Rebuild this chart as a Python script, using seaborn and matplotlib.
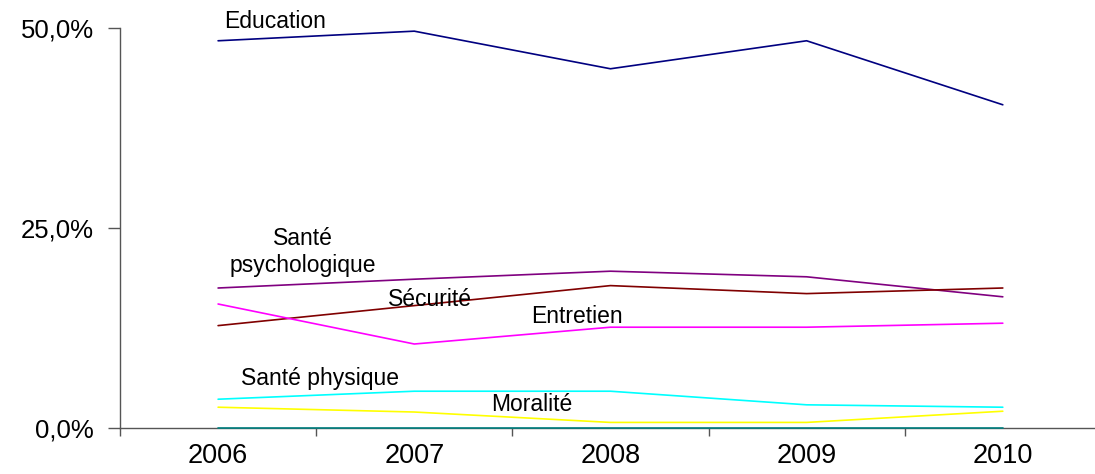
import numpy as np
import pandas as pd
import matplotlib
matplotlib.use("Agg")
import matplotlib.pyplot as plt
from matplotlib.ticker import FixedLocator, FuncFormatter
import seaborn as sns

# Données (% par thème et par année)
annees = ["2006", "2007", "2008", "2009", "2010"]
education = [48.4, 49.6, 44.9, 48.4, 40.4]
sante_psy = [17.5, 18.6, 19.6, 18.9, 16.4]
securite = [12.8, 15.3, 17.8, 16.8, 17.5]
entretien = [15.5, 10.5, 12.6, 12.6, 13.1]
sante_phys = [3.6, 4.6, 4.6, 2.9, 2.6]
moralite = [2.6, 2.0, 0.7, 0.7, 2.1]
autre = [0.0, 0.0, 0.0, 0.0, 0.0]

series = {
    "Education": education,
    "Santé psychologique": sante_psy,
    "Sécurité": securite,
    "Entretien": entretien,
    "Santé physique": sante_phys,
    "Moralité": moralite,
    "Autre": autre,
}
couleurs = {
    "Education": "#000080",
    "Santé psychologique": "#800080",
    "Sécurité": "#800000",
    "Entretien": "#FF00FF",
    "Santé physique": "#00FFFF",
    "Moralité": "#FFFF00",
    "Autre": "#008080",
}

df = pd.DataFrame(series, index=annees)
df["Annee"] = np.arange(len(annees))
df_long = df.melt(id_vars="Annee", var_name="Theme", value_name="Part")

sns.set_theme(style="white")
plt.rcParams["font.family"] = ["Liberation Sans", "DejaVu Sans"]

fig = plt.figure(figsize=(10.95, 4.74), dpi=100)
ax = fig.add_axes([0.1096, 0.097, 0.8904, 0.844])

sns.lineplot(data=df_long, x="Annee", y="Part", hue="Theme", palette=couleurs,
             linewidth=1.2, legend=False, ax=ax, clip_on=False, zorder=3)

# Étiquettes des séries (position en coordonnées de données)
etiquettes = [
    ("Education", 0.03, 50.8, "left"),
    ("Santé\npsychologique", 0.43, 22.0, "center"),
    ("Sécurité", 1.08, 16.1, "center"),
    ("Entretien", 1.83, 13.9, "center"),
    ("Santé physique", 0.52, 6.2, "center"),
    ("Moralité", 1.6, 2.9, "center"),
]
for txt, x, y, ha in etiquettes:
    ax.text(x, y, txt, ha=ha, va="center", fontsize=16.5, color="black",
            linespacing=1.25, clip_on=False)

ax.set_xlim(-0.5, 4.47)
ax.set_ylim(0, 50)

ax.xaxis.set_major_locator(FixedLocator(np.arange(-0.5, 5.0, 1.0)))
ax.xaxis.set_major_formatter(FuncFormatter(lambda v, p: ""))
ax.set_xticks(np.arange(len(annees)), annees, minor=True)
ax.tick_params(axis="x", which="major", direction="out", length=6, width=1,
               color="#555555", bottom=True)
ax.tick_params(axis="x", which="minor", length=0, pad=11, labelsize=19.5,
               labelcolor="black")

ax.set_yticks([0, 25, 50])
ax.yaxis.set_major_formatter(FuncFormatter(lambda v, p: f"{v:.1f}%".replace(".", ",")))
ax.tick_params(axis="y", direction="out", length=9, width=1, color="#555555",
               left=True, pad=10, labelsize=18.5, labelcolor="black")

for side in ["top", "right"]:
    ax.spines[side].set_visible(False)
for side in ["left", "bottom"]:
    ax.spines[side].set_color("#555555")
    ax.spines[side].set_linewidth(1)

ax.set_xlabel("")
ax.set_ylabel("")
ax.grid(False)

fig.savefig("out.png", dpi=100)
